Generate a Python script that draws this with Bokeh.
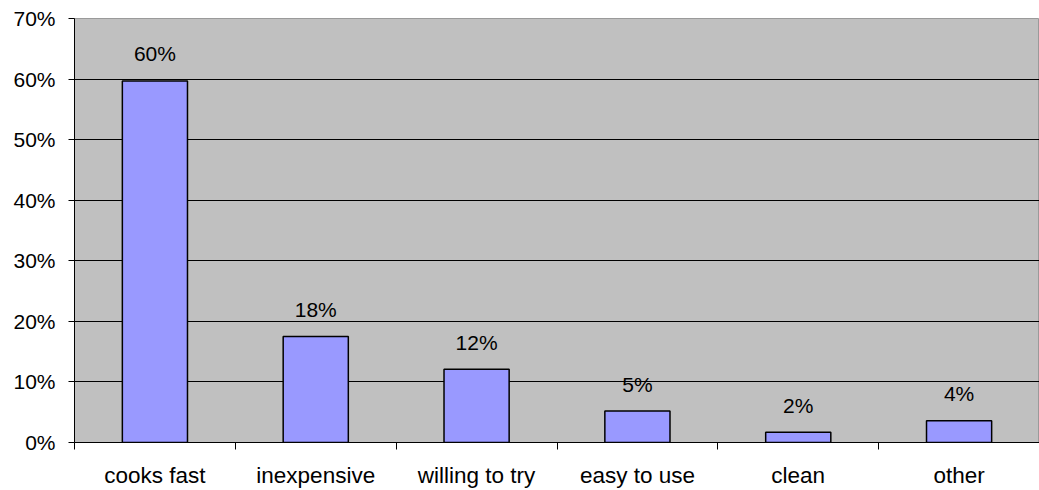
from bokeh.plotting import figure
from bokeh.models import ColumnDataSource, Range1d, FixedTicker, NumeralTickFormatter
from bokeh.core.properties import value
from bokeh.embed import file_html
from bokeh.resources import INLINE

# Survey answers and the share of respondents giving each one
categories = ["cooks fast", "inexpensive", "willing to try", "easy to use", "clean", "other"]
shares = [0.597, 0.175, 0.121, 0.052, 0.017, 0.036]
y_ticks = [0.0, 0.1, 0.2, 0.3, 0.4, 0.5, 0.6, 0.7]

FONT = "Liberation Sans"
FONT_SIZE = "21px"

centers = [i + 0.5 for i in range(len(categories))]
labels = [f"{round(s * 100)}%" for s in shares]
source = ColumnDataSource(data=dict(x=centers, top=shares, label=labels))

p = figure(
    width=1039, height=490,
    x_range=Range1d(0, len(categories)), y_range=Range1d(0, y_ticks[-1]),
    output_backend="svg", toolbar_location=None, tools="",
    min_border_left=74, min_border_right=0, min_border_top=18, min_border_bottom=47,
)
p.background_fill_color = "#C0C0C0"
p.border_fill_color = "white"
p.outline_line_color = "#9A9A9A"
p.outline_line_width = 1

# horizontal gridlines between the axis and the top edge
p.xgrid.visible = False
p.ygrid.ticker = FixedTicker(ticks=y_ticks[1:-1])
p.ygrid.grid_line_color = "black"
p.ygrid.grid_line_width = 1

p.vbar(x="x", top="top", width=0.405, source=source,
       fill_color="#9999FF", line_color="black", line_width=1.5)

p.text(x="x", y="top", text="label", source=source,
       text_align="center", text_baseline="alphabetic", y_offset=-27,
       text_font=value(FONT), text_font_size=FONT_SIZE, text_color="black")

# category axis: names at the centres, ticks at the boundaries
xa = p.xaxis[0]
xa.ticker = FixedTicker(ticks=centers, minor_ticks=list(range(len(categories) + 1)))
xa.major_label_overrides = {c: name for c, name in zip(centers, categories)}
xa.major_tick_out = 0
xa.major_tick_in = 0
xa.minor_tick_out = 7
xa.minor_tick_in = 0
xa.minor_tick_line_color = "black"
xa.axis_line_color = "black"
xa.major_label_standoff = 13
xa.major_label_text_font = FONT
xa.major_label_text_font_size = "22.5px"
xa.major_label_text_color = "black"

ya = p.yaxis[0]
ya.ticker = FixedTicker(ticks=y_ticks)
ya.formatter = NumeralTickFormatter(format="0%")
ya.major_tick_out = 6
ya.major_tick_in = 0
ya.minor_tick_line_color = None
ya.axis_line_color = "black"
ya.major_tick_line_color = "black"
ya.major_label_standoff = 13
ya.major_label_text_font = FONT
ya.major_label_text_font_size = FONT_SIZE
ya.major_label_text_color = "black"

open("out.html", "w").write(file_html(p, INLINE))
